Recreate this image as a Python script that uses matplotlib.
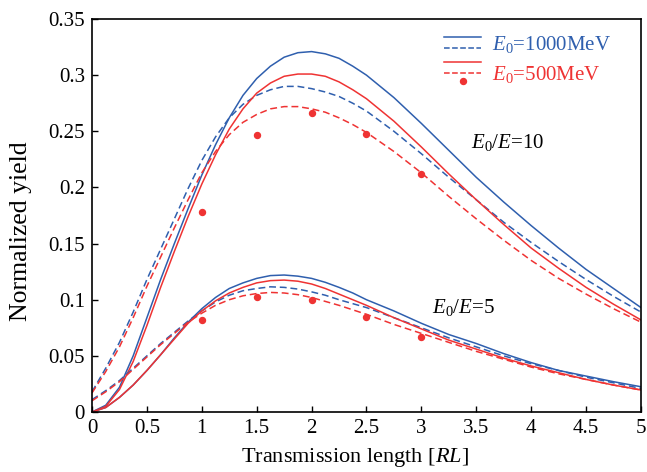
import matplotlib
matplotlib.use("Agg")
import matplotlib.pyplot as plt
from matplotlib.lines import Line2D
from matplotlib.legend_handler import HandlerBase

plt.rcParams['font.family'] = ['Liberation Serif', 'DejaVu Serif']
plt.rcParams['mathtext.fontset'] = 'custom'
plt.rcParams['mathtext.rm'] = 'Liberation Serif'
plt.rcParams['mathtext.it'] = 'Liberation Serif:italic'

BLUE = '#2f5fae'
RED = '#ef3333'

# transmission length [RL]
x = [0, 0.125, 0.25, 0.375, 0.5, 0.625, 0.75, 0.875, 1.0, 1.125, 1.25, 1.375, 1.5,
     1.625, 1.75, 1.875, 2.0, 2.125, 2.25, 2.375, 2.5, 2.75, 3.0, 3.25, 3.5, 3.75,
     4.0, 4.25, 4.5, 4.75, 5.0]

# E0/E = 10
y10_1000_solid = [0, 0.006, 0.022, 0.050, 0.084, 0.118, 0.150, 0.181, 0.211, 0.238, 0.262,
                  0.282, 0.297, 0.308, 0.316, 0.320, 0.321, 0.319, 0.315, 0.308, 0.300,
                  0.280, 0.257, 0.233, 0.209, 0.187, 0.166, 0.146, 0.127, 0.110, 0.093]
y10_1000_dash = [0.018, 0.039, 0.062, 0.089, 0.118, 0.145, 0.172, 0.199, 0.224, 0.245, 0.262,
                 0.274, 0.282, 0.287, 0.290, 0.290, 0.288, 0.285, 0.281, 0.275, 0.268,
                 0.250, 0.230, 0.209, 0.189, 0.169, 0.151, 0.134, 0.118, 0.103, 0.089]
y10_500_solid = [0, 0.005, 0.020, 0.045, 0.077, 0.111, 0.143, 0.174, 0.203, 0.229, 0.252,
                 0.270, 0.284, 0.293, 0.299, 0.301, 0.301, 0.299, 0.294, 0.287, 0.279,
                 0.259, 0.236, 0.212, 0.189, 0.167, 0.146, 0.128, 0.111, 0.096, 0.082]
y10_500_dash = [0.017, 0.036, 0.058, 0.084, 0.112, 0.138, 0.164, 0.189, 0.213, 0.232, 0.247,
                0.258, 0.265, 0.270, 0.272, 0.272, 0.270, 0.267, 0.262, 0.256, 0.249,
                0.232, 0.213, 0.192, 0.172, 0.153, 0.135, 0.119, 0.105, 0.092, 0.080]

# E0/E = 5
y5_1000_solid = [0, 0.004, 0.013, 0.024, 0.037, 0.051, 0.066, 0.080, 0.092, 0.102, 0.110,
                 0.115, 0.119, 0.1215, 0.122, 0.121, 0.119, 0.1155, 0.111, 0.106, 0.100,
                 0.090, 0.079, 0.069, 0.061, 0.052, 0.044, 0.037, 0.032, 0.027, 0.0225]
y5_1000_dash = [0.011, 0.019, 0.028, 0.039, 0.050, 0.061, 0.071, 0.081, 0.090, 0.098, 0.104,
                0.108, 0.110, 0.1115, 0.111, 0.1095, 0.107, 0.104, 0.100, 0.0965, 0.093,
                0.084, 0.075, 0.066, 0.058, 0.050, 0.043, 0.037, 0.031, 0.026, 0.021]
y5_500_solid = [0, 0.004, 0.013, 0.024, 0.037, 0.051, 0.065, 0.079, 0.090, 0.099, 0.106,
                0.111, 0.115, 0.117, 0.1175, 0.1165, 0.114, 0.110, 0.105, 0.100, 0.095,
                0.084, 0.074, 0.064, 0.056, 0.048, 0.041, 0.035, 0.029, 0.024, 0.0196]
y5_500_dash = [0.010, 0.018, 0.027, 0.038, 0.049, 0.060, 0.070, 0.080, 0.088, 0.095, 0.100,
               0.1035, 0.1055, 0.1065, 0.106, 0.1045, 0.102, 0.0985, 0.095, 0.091, 0.087,
               0.078, 0.070, 0.062, 0.054, 0.047, 0.040, 0.034, 0.029, 0.024, 0.0196]

# measured points, 500 MeV
x_meas = [1.0, 1.5, 2.0, 2.5, 3.0]
y10_meas = [0.178, 0.247, 0.266, 0.248, 0.212]
y5_meas = [0.082, 0.102, 0.100, 0.085, 0.067]


class StackedHandler(HandlerBase):
    """Draws several legend keys on top of each other (offsets in units of fontsize)."""
    def __init__(self, offsets):
        super().__init__()
        self.offsets = offsets

    def create_artists(self, legend, orig_handle, xdescent, ydescent,
                       width, height, fontsize, trans):
        arts = []
        yc = height / 2 - ydescent
        for h, off in zip(orig_handle, self.offsets):
            y = yc + off * fontsize
            if h.get_linestyle() in ('None', ''):
                a = Line2D([width / 2 - xdescent], [y], marker='o', linestyle='None',
                           color=h.get_color(), markersize=h.get_markersize())
            else:
                a = Line2D([-xdescent, width - xdescent], [y, y], color=h.get_color(),
                           linestyle=h.get_linestyle(), linewidth=h.get_linewidth())
            a.set_transform(trans)
            arts.append(a)
        return arts


fig = plt.figure(figsize=(6.47, 4.72), dpi=100)
ax = fig.add_axes([0.1422, 0.1271, 0.8485, 0.8326])

lw = 1.1
dash = (0, (4.5, 2.5))
b1, = ax.plot(x, y10_1000_solid, color=BLUE, lw=lw)
b2, = ax.plot(x, y10_1000_dash, color=BLUE, lw=lw, ls=dash)
r1, = ax.plot(x, y10_500_solid, color=RED, lw=lw)
r2, = ax.plot(x, y10_500_dash, color=RED, lw=lw, ls=dash)
ax.plot(x, y5_1000_solid, color=BLUE, lw=lw)
ax.plot(x, y5_1000_dash, color=BLUE, lw=lw, ls=dash)
ax.plot(x, y5_500_solid, color=RED, lw=lw)
ax.plot(x, y5_500_dash, color=RED, lw=lw, ls=dash)
r3, = ax.plot(x_meas, y10_meas, 'o', color=RED, ms=4.3)
ax.plot(x_meas, y5_meas, 'o', color=RED, ms=4.3)

ax.set_xlim(0, 5)
ax.set_ylim(0, 0.35)
ax.set_xticks([0, 0.5, 1, 1.5, 2, 2.5, 3, 3.5, 4, 4.5, 5])
ax.set_xticklabels(['0', '0.5', '1', '1.5', '2', '2.5', '3', '3.5', '4', '4.5', '5'])
ax.set_yticks([0, 0.05, 0.1, 0.15, 0.2, 0.25, 0.3, 0.35])
ax.set_yticklabels(['0', '0.05', '0.1', '0.15', '0.2', '0.25', '0.3', '0.35'])
ax.tick_params(direction='in', length=4, width=1, labelsize=15, pad=5)
for s in ax.spines.values():
    s.set_linewidth(1.2)

ax.set_xlabel('Transmission length [$RL$]', fontsize=16)
ax.set_ylabel('Normalized yield', fontsize=18.5)
ax.xaxis.set_label_coords(0.479, -0.086)
ax.yaxis.set_label_coords(-0.109, 0.459)

ax.text(3.45, 0.24, r'$E_{\mathrm{0}}/E$=10', fontsize=15, ha='left', va='center')
ax.text(3.1, 0.093, r'$E_{\mathrm{0}}/E$=5', fontsize=15, ha='left', va='center')

h1000 = (b1, b2)
h500 = (r1, r2, r3)
ax.legend([h1000, h500], [r'$E_{\mathrm{0}}$=1000MeV', r'$E_{\mathrm{0}}$=500MeV'],
          handler_map={h1000: StackedHandler([0.25, -0.25]),
                       h500: StackedHandler([0.51, 0.0, -0.38])},
          labelcolor=[BLUE, RED], fontsize=15, frameon=False,
          loc='upper right', bbox_to_anchor=(0.979, 1.01),
          handlelength=1.8, handletextpad=0.5, labelspacing=0.45)

fig.savefig('out.png', dpi=100)
